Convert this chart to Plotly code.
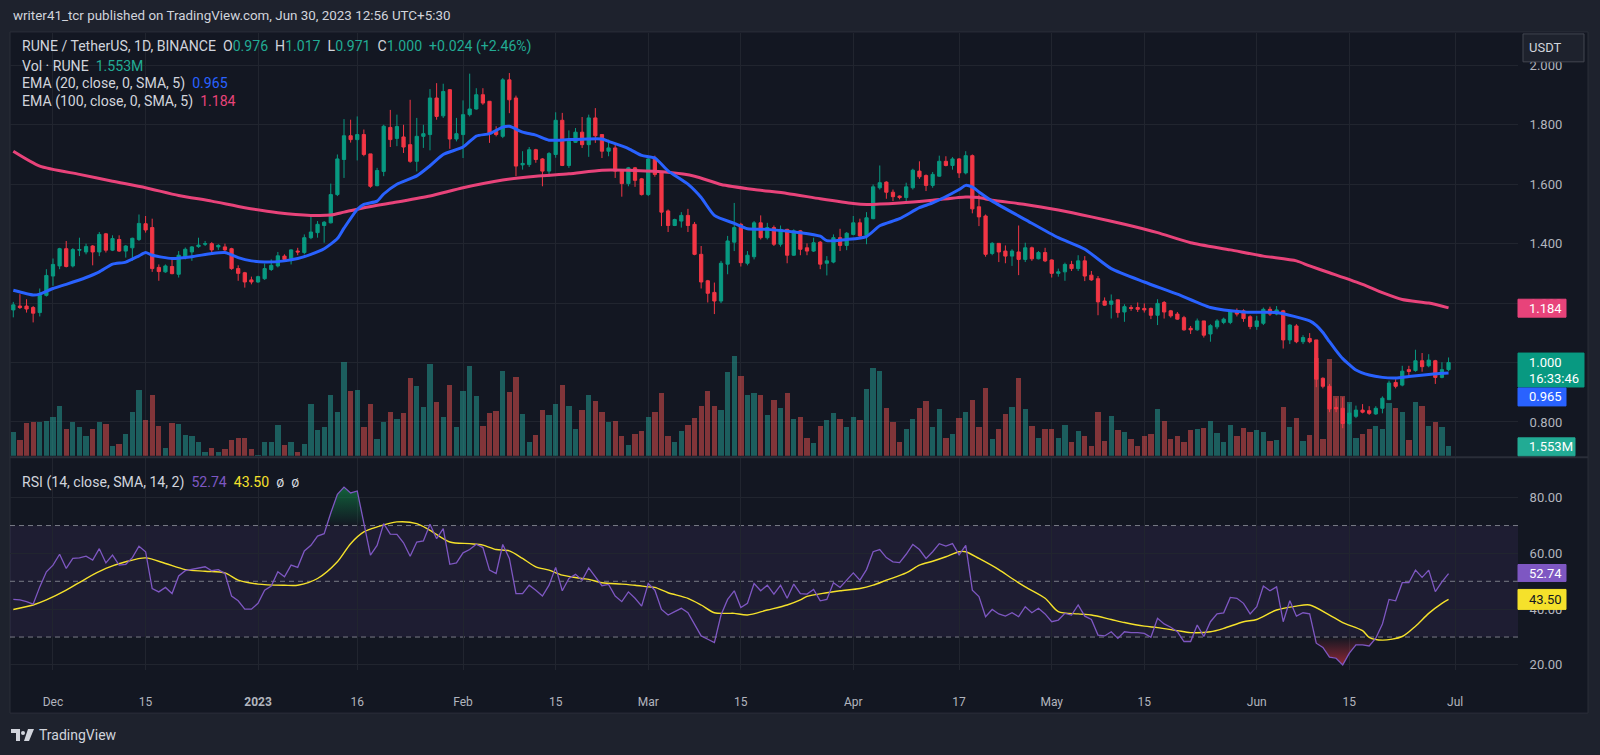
import numpy as np
import pandas as pd
import plotly.graph_objects as go

W, H = 1600, 755
def px(x): return x / W
def py(y): return 1 - y / H

# ---------------- data ----------------
dates = pd.date_range("2022-11-25", "2023-06-30", freq="D")

opens = [1.177,1.190,1.190,1.185,1.168,1.226,1.291,1.325,1.383,1.325,
1.378,1.372,1.392,1.372,1.433,1.378,1.414,1.375,1.386,1.414,
1.467,1.454,1.320,1.305,1.323,1.297,1.356,1.372,1.390,1.398,
1.400,1.389,1.389,1.383,1.316,1.302,1.278,1.271,1.282,1.313,
1.325,1.358,1.350,1.375,1.370,1.420,1.437,1.461,1.470,1.565,
1.683,1.763,1.750,1.767,1.702,1.595,1.643,1.791,1.754,1.759,
1.733,1.677,1.761,1.767,1.890,1.830,1.918,1.752,1.767,1.834,
1.853,1.901,1.879,1.778,1.761,1.951,1.890,1.665,1.666,1.716,
1.685,1.644,1.700,1.815,1.663,1.741,1.775,1.733,1.823,1.767,
1.711,1.722,1.644,1.602,1.655,1.618,1.565,1.685,1.638,1.510,
1.461,1.476,1.495,1.465,1.364,1.275,1.236,1.207,1.331,1.405,
1.465,1.334,1.356,1.470,1.420,1.454,1.398,1.448,1.361,1.443,
1.386,1.375,1.405,1.334,1.338,1.420,1.394,1.431,1.470,1.428,
1.484,1.588,1.607,1.573,1.560,1.555,1.588,1.644,1.629,1.596,
1.627,1.677,1.663,1.685,1.638,1.696,1.524,1.493,1.367,1.401,
1.375,1.358,1.372,1.347,1.386,1.349,1.370,1.345,1.300,1.305,
1.330,1.316,1.342,1.294,1.282,1.207,1.196,1.211,1.170,1.185,
1.185,1.182,1.182,1.159,1.202,1.174,1.163,1.151,1.115,1.110,
1.140,1.096,1.120,1.135,1.135,1.174,1.174,1.154,1.121,1.132,
1.179,1.163,1.174,1.076,1.123,1.070,1.081,1.076,0.947,0.920,
0.849,0.846,0.795,0.819,0.840,0.838,0.827,0.846,0.875,0.933,
0.924,0.976,0.973,1.006,0.989,1.006,0.950,0.976]

highs = [1.204,1.230,1.213,1.190,1.249,1.314,1.350,1.386,1.409,1.385,
1.420,1.400,1.395,1.439,1.436,1.428,1.428,1.395,1.420,1.498,
1.493,1.484,1.330,1.330,1.353,1.375,1.387,1.392,1.420,1.409,
1.405,1.398,1.400,1.386,1.327,1.305,1.289,1.292,1.333,1.347,
1.372,1.364,1.381,1.386,1.431,1.493,1.476,1.476,1.602,1.700,
1.819,1.817,1.828,1.784,1.702,1.655,1.800,1.850,1.834,1.800,
1.884,1.823,1.800,1.920,1.940,1.938,1.920,1.823,1.882,1.972,
1.923,1.923,1.879,1.795,1.957,1.974,1.898,1.711,1.725,1.719,
1.688,1.708,1.842,1.840,1.781,1.789,1.826,1.834,1.856,1.767,
1.750,1.733,1.649,1.658,1.658,1.621,1.694,1.696,1.644,1.515,
1.484,1.506,1.517,1.473,1.392,1.278,1.269,1.342,1.426,1.537,
1.470,1.375,1.476,1.495,1.470,1.461,1.461,1.450,1.448,1.446,
1.401,1.420,1.409,1.358,1.431,1.450,1.439,1.493,1.484,1.506,
1.599,1.663,1.610,1.582,1.562,1.605,1.652,1.677,1.633,1.641,
1.696,1.694,1.691,1.688,1.711,1.700,1.565,1.498,1.405,1.401,
1.394,1.381,1.461,1.403,1.390,1.375,1.386,1.347,1.316,1.336,
1.342,1.361,1.358,1.308,1.291,1.219,1.229,1.211,1.196,1.193,
1.202,1.199,1.185,1.213,1.207,1.177,1.170,1.157,1.123,1.148,
1.140,1.129,1.146,1.151,1.177,1.182,1.179,1.159,1.157,1.185,
1.188,1.190,1.177,1.129,1.129,1.092,1.099,1.076,0.950,0.928,
0.880,0.883,0.861,0.855,0.860,0.853,0.853,0.886,0.939,0.944,
0.989,0.989,1.043,1.032,1.028,1.009,1.001,1.017]

lows = [1.152,1.180,1.168,1.135,1.155,1.222,1.258,1.314,1.320,1.320,
1.358,1.364,1.327,1.358,1.370,1.375,1.372,1.353,1.342,1.409,
1.437,1.305,1.275,1.302,1.297,1.286,1.347,1.342,1.386,1.392,
1.370,1.379,1.375,1.312,1.275,1.252,1.263,1.268,1.278,1.308,
1.320,1.344,1.330,1.361,1.364,1.415,1.420,1.403,1.468,1.560,
1.621,1.740,1.680,1.694,1.588,1.593,1.627,1.725,1.728,1.705,
1.672,1.643,1.722,1.714,1.817,1.823,1.719,1.744,1.688,1.828,
1.851,1.867,1.739,1.761,1.755,1.839,1.627,1.649,1.658,1.672,
1.593,1.625,1.689,1.661,1.655,1.739,1.722,1.692,1.739,1.688,
1.694,1.621,1.558,1.593,1.591,1.562,1.560,1.625,1.459,1.439,
1.459,1.454,1.439,1.361,1.249,1.202,1.163,1.200,1.297,1.375,
1.323,1.327,1.347,1.414,1.414,1.392,1.390,1.334,1.359,1.361,
1.361,1.372,1.314,1.293,1.334,1.375,1.378,1.428,1.420,1.398,
1.482,1.582,1.551,1.543,1.549,1.543,1.582,1.618,1.577,1.588,
1.625,1.660,1.649,1.621,1.633,1.502,1.459,1.356,1.361,1.338,
1.334,1.325,1.294,1.338,1.342,1.347,1.338,1.286,1.289,1.275,
1.308,1.308,1.274,1.275,1.159,1.191,1.148,1.151,1.137,1.174,
1.170,1.168,1.146,1.126,1.148,1.151,1.144,1.107,1.096,1.107,
1.084,1.070,1.112,1.129,1.129,1.155,1.137,1.112,1.110,1.126,
1.157,1.159,1.047,1.062,1.065,1.062,1.065,0.917,0.913,0.833,
0.833,0.779,0.790,0.813,0.829,0.824,0.824,0.829,0.875,0.913,
0.920,0.953,0.969,0.969,0.984,0.928,0.947,0.971]

closes = [1.194,1.185,1.180,1.166,1.226,1.293,1.330,1.383,1.323,1.380,
1.380,1.390,1.372,1.431,1.378,1.417,1.375,1.392,1.418,1.468,
1.446,1.316,1.306,1.325,1.299,1.361,1.381,1.389,1.395,1.400,
1.379,1.394,1.379,1.316,1.300,1.271,1.271,1.289,1.316,1.327,
1.359,1.347,1.379,1.372,1.420,1.439,1.465,1.472,1.565,1.685,
1.763,1.750,1.767,1.700,1.593,1.646,1.795,1.750,1.794,1.725,
1.677,1.761,1.770,1.890,1.828,1.912,1.752,1.770,1.834,1.853,
1.901,1.873,1.772,1.767,1.951,1.884,1.661,1.670,1.716,1.683,
1.644,1.703,1.815,1.663,1.744,1.775,1.733,1.823,1.763,1.711,
1.722,1.644,1.602,1.655,1.613,1.565,1.685,1.633,1.506,1.461,
1.481,1.495,1.461,1.364,1.271,1.233,1.207,1.334,1.409,1.454,
1.336,1.361,1.470,1.420,1.454,1.398,1.448,1.361,1.443,1.381,
1.375,1.403,1.331,1.342,1.420,1.394,1.435,1.470,1.426,1.487,
1.591,1.605,1.573,1.558,1.555,1.591,1.647,1.625,1.596,1.633,
1.677,1.663,1.685,1.638,1.696,1.517,1.490,1.364,1.401,1.372,
1.358,1.375,1.347,1.386,1.349,1.370,1.342,1.300,1.305,1.330,
1.316,1.342,1.291,1.278,1.204,1.193,1.207,1.168,1.188,1.182,
1.179,1.177,1.159,1.199,1.170,1.157,1.146,1.110,1.110,1.140,
1.092,1.124,1.140,1.146,1.170,1.163,1.148,1.121,1.140,1.179,
1.163,1.177,1.076,1.126,1.070,1.084,1.070,0.944,0.920,0.844,
0.844,0.795,0.830,0.840,0.833,0.829,0.846,0.880,0.931,0.920,
0.971,0.970,1.006,0.986,1.008,0.950,0.976,1.000]

volume_m = [3.9,2.6,5.4,5.6,5.6,5.7,6.4,8.2,4.4,5.6,
4.7,3.3,4.4,5.6,5.2,1.6,2.0,3.6,7.2,10.8,
5.9,10.0,4.9,1.3,5.4,5.2,3.4,3.3,2.3,0.7,
1.3,0.7,1.1,2.6,2.9,2.9,1.1,0.2,2.3,2.3,
5.1,1.8,2.3,0.7,2.0,8.5,4.2,4.7,10.0,7.2,
15.4,10.6,10.8,4.7,8.5,2.8,5.6,7.2,6.0,7.0,
12.7,11.4,8.0,15.0,8.8,6.4,11.6,4.7,10.6,14.7,
9.8,4.9,7.0,7.4,13.9,10.5,12.9,6.9,2.3,3.4,
7.5,6.7,8.5,11.6,8.2,4.4,7.5,10.0,9.0,7.2,
5.6,5.7,3.3,1.8,3.6,4.1,6.4,7.2,10.3,3.3,
2.3,4.1,5.1,6.2,8.2,10.6,8.2,7.5,13.7,16.3,
13.1,10.0,10.3,10.0,6.7,9.2,7.8,10.3,6.0,6.4,
2.9,2.1,4.9,5.9,7.0,6.0,4.7,6.4,5.9,10.9,
14.4,13.9,7.8,5.6,2.3,4.4,6.0,7.8,9.0,4.7,
7.7,2.9,3.6,6.2,7.2,9.2,4.7,11.1,2.8,4.4,
6.9,8.0,12.7,7.7,4.9,2.9,4.4,4.4,2.9,5.1,
2.3,4.1,3.3,1.6,7.2,2.5,6.5,4.2,3.9,2.8,
1.6,3.3,3.6,7.7,5.7,2.8,3.3,2.3,4.2,4.4,
4.6,5.7,3.8,2.3,5.1,3.3,4.6,3.9,4.2,3.9,
2.5,2.6,8.0,4.7,6.2,2.5,3.4,16.0,2.8,15.8,
9.8,9.8,8.8,2.9,3.6,4.4,4.9,4.4,8.7,7.8,
7.2,2.6,8.8,8.2,4.9,5.6,4.7,1.553]

ema20_idx = [0,3,4,6,8,11,13,15,17,19,20,21,24,27,30,32,34,36,38,41,
43,45,47,49,50,52,53,55,56,58,61,63,65,68,70,72,74,75,77,79,
81,84,89,90,93,95,97,99,102,104,106,109,111,114,119,122,123,126,129,131,
134,137,139,143,144,145,146,148,153,158,162,166,171,176,181,186,191,196,197,198,
199,200,201,202,203,205,207,209,211,214,216,217]
ema20_val = [1.243,1.227,1.230,1.249,1.263,1.286,1.305,1.331,1.338,1.359,1.370,1.361,1.350,1.356,1.367,1.370,1.353,1.342,1.338,1.342,
1.350,1.364,1.383,1.417,1.452,1.515,1.532,1.543,1.567,1.600,1.628,1.662,1.700,1.725,1.762,1.770,1.792,1.795,1.775,1.765,
1.748,1.750,1.752,1.744,1.720,1.697,1.688,1.645,1.600,1.555,1.495,1.468,1.450,1.448,1.437,1.425,1.410,1.414,1.424,1.460,
1.484,1.521,1.537,1.582,1.596,1.590,1.574,1.543,1.481,1.420,1.381,1.316,1.271,1.230,1.185,1.170,1.168,1.140,1.125,1.101,
1.070,1.040,1.013,0.993,0.975,0.958,0.950,0.948,0.953,0.960,0.964,0.965]

ema100_idx = [0,4,10,15,20,25,30,35,40,45,48,50,53,58,63,68,74,79,84,89,
94,99,103,107,112,117,122,127,129,134,139,144,146,148,153,158,163,168,173,178,
184,189,194,196,199,204,207,210,214,217]
ema100_val = [1.711,1.661,1.633,1.610,1.588,1.562,1.543,1.521,1.504,1.495,1.496,1.506,1.521,1.540,1.560,1.588,1.614,1.627,1.635,1.647,
1.646,1.640,1.627,1.599,1.582,1.569,1.551,1.535,1.532,1.537,1.546,1.557,1.555,1.546,1.532,1.513,1.490,1.465,1.437,1.403,
1.379,1.358,1.342,1.325,1.302,1.263,1.235,1.212,1.200,1.184]

rsi = [43.5,43.3,42.7,41.8,48.0,53.4,55.8,59.7,54.6,58.2,
58.4,59.0,57.6,61.7,56.6,59.4,55.8,56.1,58.5,62.6,
60.6,47.4,46.2,47.8,45.6,51.9,53.8,54.2,54.8,55.2,
53.8,54.2,52.8,44.7,43.0,40.0,40.0,42.1,46.8,48.3,
53.4,51.6,55.8,55.0,60.9,62.9,66.2,67.1,74.5,81.2,
83.8,81.7,82.4,70.7,59.4,62.9,70.7,66.9,66.8,63.8,
59.0,64.1,64.5,70.5,65.3,68.9,56.1,56.6,60.2,61.4,
63.3,62.1,54.0,52.8,63.2,58.2,45.6,45.6,48.6,46.8,
44.7,48.6,55.0,46.6,51.0,52.5,50.4,54.8,51.6,48.4,
48.9,44.7,42.7,46.2,43.9,41.1,49.2,46.8,39.9,37.9,
39.1,40.3,38.7,34.3,30.4,29.2,28.0,37.9,43.5,46.6,
40.6,42.1,49.2,46.6,48.6,45.4,48.6,43.9,49.0,45.6,
45.4,47.1,43.0,43.5,49.5,47.8,50.4,53.0,50.4,54.2,
60.6,61.4,58.5,57.0,56.7,59.7,63.2,61.4,58.2,60.6,
63.5,62.6,63.5,59.5,62.9,46.8,44.5,37.3,39.9,38.3,
37.5,38.7,37.3,40.9,38.7,40.3,38.3,35.5,36.1,38.5,
37.9,41.5,37.5,36.3,30.7,30.4,31.9,29.5,31.9,31.6,
31.6,31.3,29.9,36.7,34.7,33.5,31.9,28.4,28.4,34.3,
30.2,35.5,38.3,38.7,44.2,43.9,42.1,38.3,40.9,48.3,
46.6,48.0,35.5,43.0,37.5,38.7,38.3,27.8,26.3,22.8,
22.4,20.0,24.2,27.2,27.2,26.8,29.6,34.7,43.5,43.0,
49.5,49.5,54.0,51.4,54.0,46.3,49.8,52.74]

rsi_ma_idx = [0,3,5,8,11,14,17,20,23,26,29,32,34,37,41,43,46,49,51,53,
55,58,61,63,66,69,71,73,75,77,79,81,83,86,87,89,92,94,96,97,
99,102,104,106,108,109,111,114,117,119,120,123,125,128,130,132,135,137,139,141,
143,144,146,149,151,153,156,158,161,163,166,168,171,173,176,178,181,183,186,188,
191,194,196,199,201,204,205,207,210,212,214,216,217]
rsi_ma_val = [39.9,41.5,43.3,46.8,51.0,54.6,57.0,58.4,56.4,54.2,53.6,53.0,50.4,49.0,48.6,48.6,51.0,57.0,63.5,67.7,
69.5,71.3,70.7,68.3,64.1,63.5,63.0,61.4,60.9,58.2,55.2,54.0,52.2,51.0,50.7,49.5,49.0,48.6,48.0,47.8,
45.9,43.9,41.5,38.7,38.5,38.5,37.9,39.7,41.5,43.3,44.6,45.9,46.6,47.4,48.6,50.4,53.0,55.8,57.2,58.8,
60.6,60.6,58.2,54.2,51.0,48.0,43.9,39.1,38.3,37.9,36.3,35.2,33.9,33.4,32.3,31.6,31.9,33.1,35.5,36.3,
39.7,41.1,41.5,37.9,35.2,32.3,29.9,28.9,30.2,33.9,38.5,42.1,43.5]

x_tick_dates = ["2022-12-01","2022-12-15","2023-01-01","2023-01-16","2023-02-01","2023-02-15",
                "2023-03-01","2023-03-15","2023-04-01","2023-04-17","2023-05-01","2023-05-15",
                "2023-06-01","2023-06-15","2023-07-01"]
x_tick_labels = ["Dec","15","<b>2023</b>","16","Feb","15","Mar","15","Apr","17","May","15","Jun","15","Jul"]
price_ticks = [0.8, 1.0, 1.2, 1.4, 1.6, 1.8, 2.0]
rsi_ticks = [20, 40, 60, 80]

# ---------------- styling ----------------
BG = "#131722"
OUTER = "#1e222d"
GRID = "#21252f"
TXT = "#b2b5be"
LTXT = "#d1d4dc"
UP = "#089981"
DN = "#f23645"
BLUE = "#2962ff"
PINK = "#e8437a"
PURPLE = "#7e57c2"
YEL = "#f5e12b"
FONT = "Roboto, 'Noto Sans', sans-serif"

n = min(len(dates), len(opens), len(highs), len(lows), len(closes))
vol_colors = ["rgba(38,166,154,0.5)" if c >= o else "rgba(239,83,80,0.5)"
              for o, c in zip(opens, closes)]

fig = go.Figure()

fig.add_trace(go.Bar(x=dates[:len(volume_m)], y=volume_m, marker_color=vol_colors[:len(volume_m)],
                     marker_line_width=0, width=0.8 * 86400000, xaxis="x", yaxis="y",
                     hoverinfo="skip", showlegend=False))

fig.add_trace(go.Candlestick(x=dates[:n], open=opens[:n], high=highs[:n], low=lows[:n], close=closes[:n],
                             xaxis="x", yaxis="y2", whiskerwidth=0,
                             increasing=dict(line=dict(color=UP, width=1), fillcolor=UP),
                             decreasing=dict(line=dict(color=DN, width=1), fillcolor=DN),
                             hoverinfo="skip", showlegend=False))

fig.add_trace(go.Scatter(x=dates[ema100_idx], y=ema100_val, mode="lines", xaxis="x", yaxis="y2",
                         line=dict(color=PINK, width=3, shape="spline", smoothing=0.6),
                         hoverinfo="skip", showlegend=False))
fig.add_trace(go.Scatter(x=dates[ema20_idx], y=ema20_val, mode="lines", xaxis="x", yaxis="y2",
                         line=dict(color=BLUE, width=3, shape="spline", smoothing=0.6),
                         hoverinfo="skip", showlegend=False))

# RSI fills
rsi_arr = np.array(rsi)
rd = dates[:len(rsi)]
fig.add_trace(go.Scatter(x=rd, y=[70] * len(rsi), mode="lines", line=dict(width=0, color="rgba(0,0,0,0)"),
                         xaxis="x2", yaxis="y3", hoverinfo="skip", showlegend=False))
fig.add_trace(go.Scatter(x=rd, y=np.maximum(rsi_arr, 70), mode="lines", line=dict(width=0, color="rgba(0,0,0,0)"),
                         fill="tonexty",
                         fillgradient=dict(type="vertical",
                                           colorscale=[[0, "rgba(8,153,80,0.0)"], [1, "rgba(20,160,80,0.55)"]]),
                         xaxis="x2", yaxis="y3", hoverinfo="skip", showlegend=False))
fig.add_trace(go.Scatter(x=rd, y=[30] * len(rsi), mode="lines", line=dict(width=0, color="rgba(0,0,0,0)"),
                         xaxis="x2", yaxis="y3", hoverinfo="skip", showlegend=False))
fig.add_trace(go.Scatter(x=rd, y=np.minimum(rsi_arr, 30), mode="lines", line=dict(width=0, color="rgba(0,0,0,0)"),
                         fill="tonexty",
                         fillgradient=dict(type="vertical",
                                           colorscale=[[0, "rgba(242,54,69,0.55)"], [1, "rgba(242,54,69,0.0)"]]),
                         xaxis="x2", yaxis="y3", hoverinfo="skip", showlegend=False))

fig.add_trace(go.Scatter(x=dates[rsi_ma_idx], y=rsi_ma_val, mode="lines", xaxis="x2", yaxis="y3",
                         line=dict(color=YEL, width=1.4, shape="spline", smoothing=0.8),
                         hoverinfo="skip", showlegend=False))
fig.add_trace(go.Scatter(x=rd, y=rsi, mode="lines", xaxis="x2", yaxis="y3",
                         line=dict(color=PURPLE, width=1.3),
                         hoverinfo="skip", showlegend=False))

# ---------------- layout ----------------
x_range = ["2022-11-24 12:00", "2023-07-10 12:00"]
xdom = [px(10), px(1518)]

fig.update_layout(
    width=W, height=H, margin=dict(l=0, r=0, t=0, b=0),
    paper_bgcolor=OUTER, plot_bgcolor="rgba(0,0,0,0)",
    font=dict(family=FONT, color=TXT, size=12),
    showlegend=False, dragmode=False, bargap=0,
    xaxis=dict(domain=xdom, anchor="y", range=x_range, type="date",
               tickvals=x_tick_dates, showticklabels=False, showgrid=True, gridcolor=GRID,
               gridwidth=1, zeroline=False, showline=False, ticks="",
               rangeslider=dict(visible=False), fixedrange=True),
    xaxis2=dict(domain=xdom, anchor="y3", matches="x", type="date", range=x_range,
                tickvals=x_tick_dates, ticktext=x_tick_labels, showgrid=True, gridcolor=GRID,
                zeroline=False, showline=False, ticks="outside", ticklen=20,
                tickcolor="rgba(0,0,0,0)", tickfont=dict(size=12, color=TXT, family=FONT),
                rangeslider=dict(visible=False), fixedrange=True),
    yaxis=dict(domain=[py(457), py(33)], range=[0, 69.28], visible=False, fixedrange=True),
    yaxis2=dict(overlaying="y", side="right", anchor="x", range=[0.6862, 2.109],
                tickvals=price_ticks, ticktext=[f"{v:.3f}" for v in price_ticks],
                showgrid=True, gridcolor=GRID, zeroline=False, showline=False,
                ticks="outside", ticklen=8, tickcolor="rgba(0,0,0,0)",
                tickfont=dict(size=13, color=TXT, family=FONT), fixedrange=True),
    yaxis3=dict(domain=[py(672), py(459)], anchor="x2", side="right", range=[18.10, 94.31],
                tickvals=rsi_ticks, ticktext=[f"{v:.2f}" for v in rsi_ticks],
                showgrid=True, gridcolor=GRID, zeroline=False, showline=False,
                ticks="outside", ticklen=8, tickcolor="rgba(0,0,0,0)",
                tickfont=dict(size=13, color=TXT, family=FONT), fixedrange=True),
)

shapes = []
# chart panel background
shapes.append(dict(type="rect", xref="paper", yref="paper", x0=px(10), x1=px(1588), y0=py(715), y1=py(32),
                   fillcolor=BG, line=dict(color="#2a2e39", width=1), layer="below"))
# RSI band
shapes.append(dict(type="rect", xref="paper", yref="y3", x0=px(10), x1=px(1518), y0=30, y1=70,
                   fillcolor="rgba(126,87,194,0.10)", line=dict(width=0), layer="below"))
for lvl in (70, 50, 30):
    shapes.append(dict(type="line", xref="paper", yref="y3", x0=px(10), x1=px(1518), y0=lvl, y1=lvl,
                       line=dict(color="#787b86", width=1, dash="5px,4px"), layer="between"))
# pane separators
shapes.append(dict(type="line", xref="paper", yref="paper", x0=px(10), x1=px(1588), y0=py(458.5), y1=py(458.5),
                   line=dict(color="#2a2e39", width=2), layer="above"))
# last price dotted line
shapes.append(dict(type="line", xref="paper", yref="y2", x0=px(10), x1=px(1518), y0=1.0, y1=1.0,
                   line=dict(color=UP, width=1, dash="dot"), layer="between"))

def box(x0, x1, y0, y1, color, line=None):
    shapes.append(dict(type="rect", xref="paper", yref="paper", x0=px(x0), x1=px(x1), y0=py(y1), y1=py(y0),
                       fillcolor=color, line=dict(color=line or color, width=1), layer="above"))

box(1523, 1584, 34, 62, OUTER, "#434651")
box(1518, 1566, 300, 318, PINK)
box(1518, 1584, 354, 388, UP)
box(1518, 1566, 389, 407, BLUE)
box(1518, 1575, 439, 457, "#22ab94")
box(1518, 1566, 566, 583, PURPLE)
box(1518, 1566, 591, 611, YEL)

# TradingView logo mark
shapes.append(dict(type="path", xref="paper", yref="paper",
                   path=f"M {px(11)} {py(731)} L {px(20)} {py(731)} L {px(20)} {py(743)} L {px(16)} {py(743)} "
                        f"L {px(16)} {py(735)} L {px(11)} {py(735)} Z",
                   fillcolor=LTXT, line=dict(width=0), layer="above"))
shapes.append(dict(type="circle", xref="paper", yref="paper", x0=px(21), x1=px(25), y0=py(737), y1=py(733),
                   fillcolor=LTXT, line=dict(width=0), layer="above"))
shapes.append(dict(type="path", xref="paper", yref="paper",
                   path=f"M {px(28)} {py(731)} L {px(34)} {py(731)} L {px(29)} {py(743)} L {px(24)} {py(743)} Z",
                   fillcolor=LTXT, line=dict(width=0), layer="above"))
fig.update_layout(shapes=shapes)

ann = []
def text(x, y, s, color=LTXT, size=13, anchor="left"):
    ann.append(dict(x=px(x), y=py(y), xref="paper", yref="paper", text=s, showarrow=False,
                    xanchor=anchor, yanchor="middle", align="left",
                    font=dict(family=FONT, size=size, color=color)))

SP = "&#160;"
G = "#22ab94"
LS = 14.1
text(11, 16, "writer41_tcr published on TradingView.com, Jun 30, 2023 12:56 UTC+5:30", LTXT, 13.4)
text(20, 47, "RUNE / TetherUS, 1D, BINANCE" + SP * 2 +
     f"O<span style='color:{G}'>0.976</span>" + SP * 2 +
     f"H<span style='color:{G}'>1.017</span>" + SP * 2 +
     f"L<span style='color:{G}'>0.971</span>" + SP * 2 +
     f"C<span style='color:{G}'>1.000</span>" + SP * 2 +
     f"<span style='color:{G}'>+0.024 (+2.46%)</span>", LTXT, LS)
text(20, 66, "Vol · RUNE" + SP * 2 + f"<span style='color:{G}'>1.553M</span>", LTXT, LS)
text(20, 84, "EMA (20, close, 0, SMA, 5)" + SP * 2 + f"<span style='color:{BLUE}'>0.965</span>", LTXT, LS)
text(20, 102, "EMA (100, close, 0, SMA, 5)" + SP * 2 + f"<span style='color:{PINK}'>1.184</span>", LTXT, LS)
text(20, 484, "RSI (14, close, SMA, 14, 2)" + SP * 2 + f"<span style='color:{PURPLE}'>52.74</span>" + SP * 2 +
     f"<span style='color:{YEL}'>43.50</span>" + SP * 2 + "ø" + SP * 2 + "ø", LTXT, LS)

text(1527, 48, "USDT", LTXT, 13)
text(1527, 309, "1.184", "#ffffff", 13)
text(1527, 363, "1.000", "#ffffff", 13)
text(1527, 380, "16:33:46", "#ffffff", 13)
text(1527, 398, "0.965", "#ffffff", 13)
text(1527, 448, "1.553M", "#ffffff", 13)
text(1527, 575, "52.74", "#ffffff", 13)
text(1527, 601, "43.50", "#131722", 13)
text(37, 737, "TradingView", LTXT, 14)
fig.update_layout(annotations=ann)

fig.write_html("out.html", include_plotlyjs=True,
               config={"displayModeBar": False, "staticPlot": True},
               post_script="document.body.style.margin='0px'; document.body.style.overflow='hidden';")
